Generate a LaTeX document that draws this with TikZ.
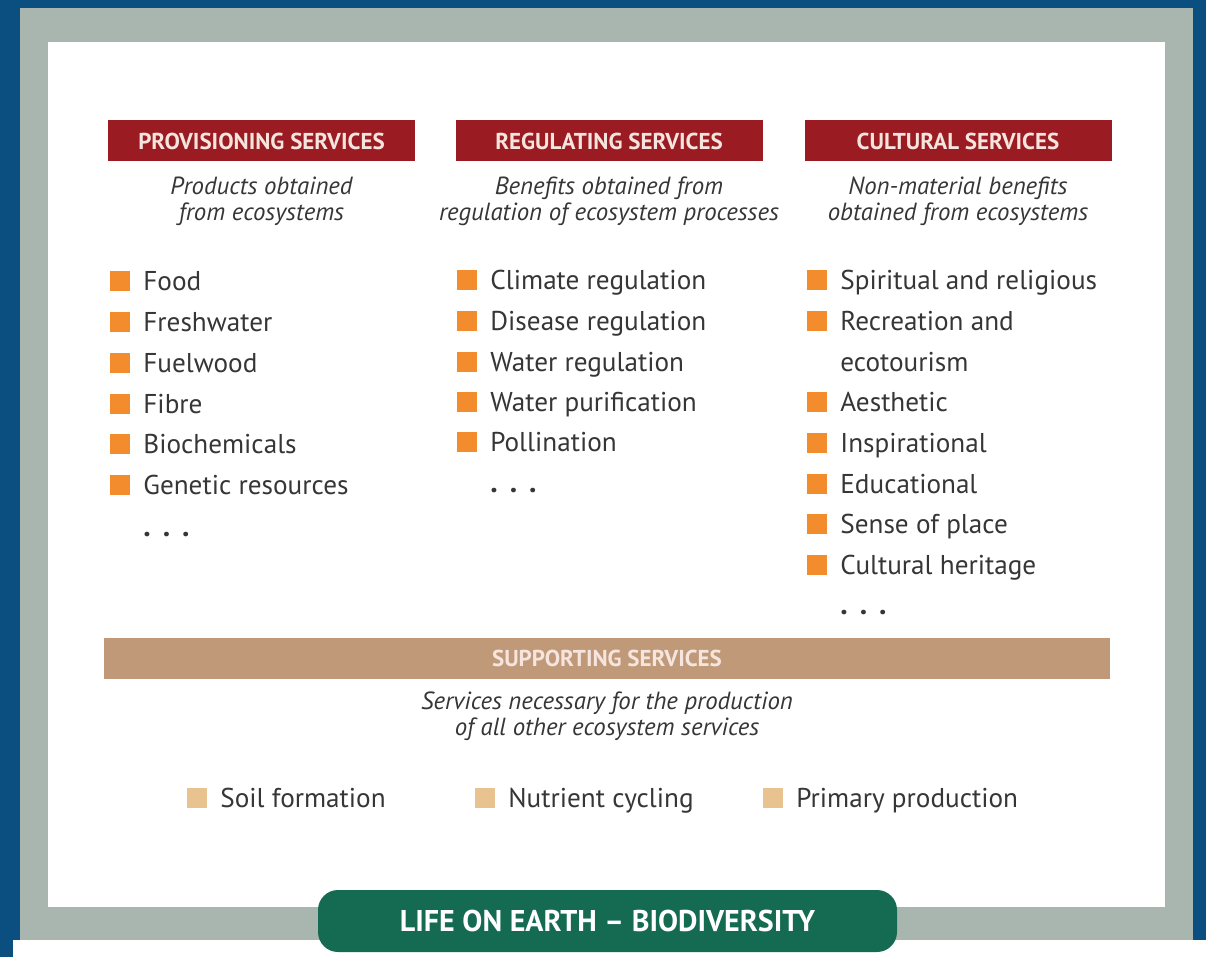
\documentclass[tikz,border=0pt]{standalone}
\usepackage{fontspec}
\setmainfont{PT Sans}
\usetikzlibrary{positioning}

\definecolor{edgeblue}{HTML}{0B4F80}
\definecolor{framegray}{HTML}{A9B6B0}
\definecolor{headred}{HTML}{9A1B21}
\definecolor{headtxt}{HTML}{F6E4DE}
\definecolor{suptan}{HTML}{C09A78}
\definecolor{bulorange}{HTML}{F28C2C}
\definecolor{bultan}{HTML}{E8C38F}
\definecolor{lifegreen}{HTML}{156A52}
\definecolor{txtgray}{HTML}{363636}

\tikzset{%
  header/.style   = {fill=headred, text=headtxt, inner sep=0pt,
    minimum width=153.5pt, minimum height=20.5pt,
    font=\bfseries\fontsize{11.5}{12}\selectfont},
  subtext/.style  = {align=center, text=txtgray, inner sep=0pt,
    font=\itshape\fontsize{12.4}{13}\selectfont}, % under a header
  plainitem/.style = {anchor=west, text=txtgray, inner sep=0pt,
    text height=9.7pt, text depth=0pt, font=\fontsize{13.6}{14}\selectfont},
  listitem/.style = {plainitem, label={[fill=bulorange, minimum size=10pt,
      inner sep=0pt, label distance=6.5pt]left:{}}},
  baseitem/.style = {plainitem, label={[fill=bultan, minimum size=10pt,
      inner sep=0pt, label distance=6.5pt]left:{}}},
  more/.style     = {anchor=base west, text=txtgray, inner sep=0pt,
    font=\bfseries\fontsize{15}{15}\selectfont}
}

\begin{document}
\begin{tikzpicture}[x=0.5pt, y=-0.5pt]

  % frame
  \useasboundingbox (0,0) rectangle (1206,957);
  \fill[edgeblue] (0,0) rectangle (1206,957);
  \fill[white] (13,940) rectangle (1206,957);
  \fill[framegray] (20,8) rectangle (1193,940);
  \fill[white] (48,42) rectangle (1165,907);

  \draw node at (261.5,141) [header] (prov) {PROVISIONING SERVICES};
  \draw node at (609,141) [header] (regu) {REGULATING SERVICES};
  \draw node at (958,141) [header] (cult) {CULTURAL SERVICES};

  \draw node [subtext, below of=prov, node distance=30pt] (provtxt)
    {Products obtained\\from ecosystems};
  \draw node [subtext, below of=regu, node distance=30pt] (regutxt)
    {Benefits obtained from\\regulation of ecosystem processes};
  \draw node [subtext, below of=cult, node distance=30pt] (culttxt)
    {Non-material benefits\\obtained from ecosystems};

  \draw node at (143,281) [listitem] (food) {Food};
  \draw node at (143,322) [listitem] (fresh) {Freshwater};
  \draw node at (143,363) [listitem] (fuel) {Fuelwood};
  \draw node at (143,404) [listitem] (fibre) {Fibre};
  \draw node at (143,444) [listitem] (bioch) {Biochemicals};
  \draw node at (143,485) [listitem] (genet) {Genetic resources};
  \draw node at (143,536) [more] (provmore) {.\hspace{6pt}.\hspace{6pt}.};

  \draw node at (490,280) [listitem] (clim) {Climate regulation};
  \draw node at (490,321) [listitem] (dise) {Disease regulation};
  \draw node at (490,362) [listitem] (wreg) {Water regulation};
  \draw node at (490,402) [listitem] (wpur) {Water purification};
  \draw node at (490,442) [listitem] (poll) {Pollination};
  \draw node at (490,493) [more] (regumore) {.\hspace{6pt}.\hspace{6pt}.};

  \draw node at (840,280) [listitem] (spir) {Spiritual and religious};
  \draw node at (840,321) [listitem] (recr) {Recreation and};
  \draw node at (840,362) [plainitem] (ecot) {ecotourism};
  \draw node at (840,402) [listitem] (aest) {Aesthetic};
  \draw node at (840,443) [listitem] (insp) {Inspirational};
  \draw node at (840,484) [listitem] (educ) {Educational};
  \draw node at (840,524) [listitem] (sense) {Sense of place};
  \draw node at (840,565) [listitem] (herit) {Cultural heritage};
  \draw node at (840,614) [more] (cultmore) {.\hspace{6pt}.\hspace{6pt}.};

  \draw node at (607,658) [header, fill=suptan, minimum width=503pt] (supp)
    {SUPPORTING SERVICES};
  \draw node [subtext, below of=supp, node distance=29pt] (supptxt)
    {Services necessary for the production\\of all other ecosystem services};

  \draw node at (220,798) [baseitem] (soil) {Soil formation};
  \draw node at (508,798) [baseitem] (nutr) {Nutrient cycling};
  \draw node at (796,798) [baseitem] (prim) {Primary production};

  \draw node at (607.5,921) [fill=lifegreen, text=white, rounded corners=10pt,
    minimum width=289.5pt, minimum height=31pt,
    font=\bfseries\fontsize{15}{16}\selectfont] (life)
    {LIFE ON EARTH -- BIODIVERSITY};

\end{tikzpicture}
\end{document}
